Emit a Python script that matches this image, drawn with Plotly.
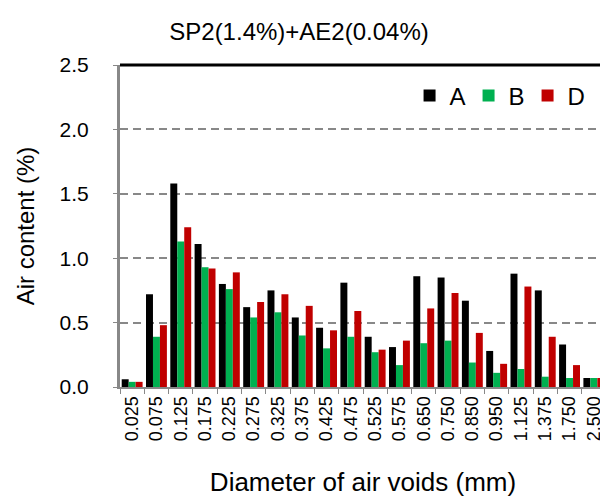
import plotly.graph_objects as go

diameters = ["0.025", "0.075", "0.125", "0.175", "0.225", "0.275", "0.325", "0.375",
             "0.425", "0.475", "0.525", "0.575", "0.650", "0.750", "0.850", "0.950",
             "1.125", "1.375", "1.750", "2.500"]
series_a = [0.06, 0.72, 1.58, 1.11, 0.80, 0.62, 0.75, 0.54, 0.46, 0.81,
            0.39, 0.31, 0.86, 0.85, 0.67, 0.28, 0.88, 0.75, 0.33, 0.07]
series_b = [0.04, 0.39, 1.13, 0.93, 0.76, 0.54, 0.58, 0.40, 0.30, 0.39,
            0.27, 0.17, 0.34, 0.36, 0.19, 0.11, 0.14, 0.08, 0.07, 0.07]
series_d = [0.04, 0.48, 1.24, 0.92, 0.89, 0.66, 0.72, 0.63, 0.44, 0.59,
            0.29, 0.36, 0.61, 0.73, 0.42, 0.18, 0.78, 0.39, 0.17, 0.07]

font_family = "Liberation Sans, Arial, sans-serif"

fig = go.Figure()
for name, vals, color in [("A", series_a, "#000000"), ("B", series_b, "#00b050"), ("D", series_d, "#c00000")]:
    fig.add_trace(go.Bar(x=diameters, y=vals, name=name, marker=dict(color=color, line=dict(width=0))))

fig.update_layout(
    width=600, height=489,
    margin=dict(l=112, r=2, t=57, b=110),
    paper_bgcolor="white", plot_bgcolor="white",
    barmode="group", bargap=0.14, bargroupgap=0,
    font=dict(family=font_family, color="#000000"),
    title=dict(text="SP2(1.4%)+AE2(0.04%)", x=0.485, xanchor="center", y=0.951, yanchor="middle",
               font=dict(size=24, family=font_family)),
    legend=dict(orientation="h", x=0.96, xanchor="right", y=0.904, yanchor="middle",
                font=dict(size=24), entrywidth=14, traceorder="normal", bgcolor="rgba(0,0,0,0)",
                itemsizing="constant"),
    showlegend=True,
)
fig.update_xaxes(
    type="category", tickangle=-90, tickfont=dict(size=18),
    showline=True, linecolor="#888888", linewidth=2,
    ticks="outside", tickson="boundaries", ticklen=5, tickcolor="#888888", tickwidth=1,
    title=dict(text="Diameter of air voids (mm)", font=dict(size=26), standoff=35),
    showgrid=False, automargin=False,
)
fig.update_yaxes(
    range=[0, 2.5], dtick=0.5, tickformat=".1f", tickfont=dict(size=21),
    showline=True, linecolor="#888888", linewidth=3,
    showgrid=True, gridcolor="#888888", griddash="8px,5px", gridwidth=2,
    zeroline=False, ticks="outside", ticklen=4, tickcolor="#888888", tickwidth=1,
    ticklabelstandoff=20,
    title=dict(text="Air content (%)", font=dict(size=24), standoff=19),
    automargin=False,
)
fig.add_shape(type="line", xref="paper", yref="paper", x0=0, x1=1, y0=1, y1=1,
              line=dict(color="black", width=3))
fig.add_shape(type="line", xref="paper", yref="paper", x0=1, x1=1, y0=0, y1=1,
              line=dict(color="black", width=3))

fig.write_html("out.html")
